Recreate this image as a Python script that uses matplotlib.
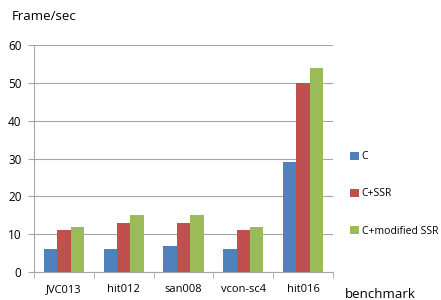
import matplotlib
matplotlib.use("Agg")
import matplotlib.pyplot as plt
import numpy as np

categories = ["JVC013", "hit012", "san008", "vcon-sc4", "hit016"]
series_names = ["C", "C+SSR", "C+modified SSR"]
c_vals = [6, 6, 7, 6, 29]
ssr_vals = [11, 13, 13, 11, 50]
mod_vals = [12, 15, 15, 12, 54]
yticks = [0, 10, 20, 30, 40, 50, 60]

colors = ["#4F81BD", "#C0504D", "#9BBB59"]
plt.rcParams['font.family'] = ['Open Sans', 'DejaVu Sans']

fig = plt.figure(figsize=(4.41, 3.00), dpi=100)
ax = fig.add_axes([34/441, 28/300, (333-34)/441, (272-45)/300])

x = np.arange(len(categories))
w = 0.225
for i, (vals, name) in enumerate(zip([c_vals, ssr_vals, mod_vals], series_names)):
    ax.bar(x + (i - 1) * w, vals, width=w, color=colors[i], label=name, zorder=3)

ax.set_xlim(-0.5, len(categories) - 0.5)
ax.set_ylim(0, 60)
ax.set_yticks(yticks)
ax.yaxis.grid(True, color="#A6A6A6", linewidth=0.8, zorder=0)
ax.set_xticks(x)
ax.set_xticklabels(categories, fontsize=8)
ax.tick_params(axis='x', length=0, pad=9)
ax.set_xticks(np.arange(len(categories) + 1) - 0.5, minor=True)
ax.tick_params(axis='x', which='minor', length=4, color="#A6A6A6", direction='out')
ax.tick_params(axis='y', length=4, color="#A6A6A6", labelsize=8.5, pad=5)
for s in ["top", "right"]:
    ax.spines[s].set_visible(False)
for s in ["left", "bottom"]:
    ax.spines[s].set_color("#A6A6A6")
    ax.spines[s].set_linewidth(0.8)

fig.text(12/441, 1 - 17/300, "Frame/sec", fontsize=9.5, va='center', ha='left')
fig.text(345/441, 1 - 295/300, "benchmark", fontsize=9.5, va='center', ha='left')

handles, labels = ax.get_legend_handles_labels()
fig.legend(handles, labels, loc='center left', bbox_to_anchor=(346/441, 1 - 194/300),
           frameon=False, fontsize=7.5, handlelength=0.8, handleheight=0.8,
           handletextpad=0.3, labelspacing=2.5, borderaxespad=0)

fig.savefig("out.png", dpi=100)
